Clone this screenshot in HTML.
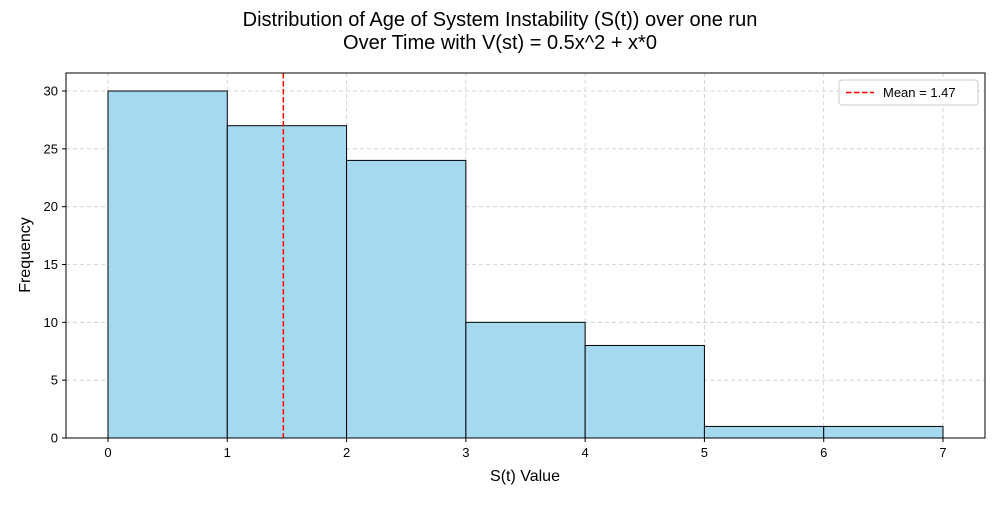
<!DOCTYPE html>
<html><head><meta charset="utf-8"><style>
body{margin:0;background:#fff;font-family:"Liberation Sans","DejaVu Sans",sans-serif}
</style></head><body>
<svg id="chart" width="1000" height="500" xmlns="http://www.w3.org/2000/svg" font-family="Liberation Sans, DejaVu Sans, sans-serif">
<text x="500" y="26" text-anchor="middle" font-size="20">Distribution of Age of System Instability (S(t)) over one run</text>
<text x="500" y="49" text-anchor="middle" font-size="20">Over Time with V(st) = 0.5x^2 + x*0</text>
<g id="grid"></g><g id="bars"></g><g id="axes"></g>
<text x="525" y="481" text-anchor="middle" font-size="16">S(t) Value</text>
<text transform="translate(30,255) rotate(-90)" text-anchor="middle" font-size="16">Frequency</text>
<g>
<rect x="839" y="80" width="139" height="25" rx="3" fill="#fff" stroke="#ccc"/>
<line x1="846" y1="92.5" x2="874" y2="92.5" stroke="red" stroke-width="1.5" stroke-dasharray="5.5,2.5"/>
<text x="883" y="97" font-size="13">Mean = 1.47</text>
</g>
</svg>
<script>
const binEdges=[0,1,2,3,4,5,6,7];
const counts=[30,27,24,10,8,1,1];
const meanValue=1.47;
const xTicks=[0,1,2,3,4,5,6,7];
const yTicks=[0,5,10,15,20,25,30];
const L=66,R=985,T=73,B=438;
const xs=v=>108+v*(943-108)/7;
const ys=v=>B-v*(B-91)/30;
const NS="http://www.w3.org/2000/svg";
function mk(tag,attrs,parent){const e=document.createElementNS(NS,tag);for(const k in attrs)e.setAttribute(k,attrs[k]);document.getElementById(parent).appendChild(e);return e;}
xTicks.forEach(t=>{
 const g=mk('line',{x1:xs(t),x2:xs(t),y1:T,y2:B,stroke:'#ccc','stroke-dasharray':'4,3','stroke-width':0.8},'grid');
 
 
 mk('line',{x1:xs(t),x2:xs(t),y1:B,y2:B+4,stroke:'#000'},'axes');
 const tx=mk('text',{x:xs(t),y:B+19,'text-anchor':'middle','font-size':13},'axes');tx.textContent=t;
 
 
});
yTicks.forEach(t=>{
 const g=mk('line',{x1:L,x2:R,y1:ys(t),y2:ys(t),stroke:'#ccc','stroke-dasharray':'4,3','stroke-width':0.8},'grid');
 
 
 mk('line',{x1:L-4,x2:L,y1:ys(t),y2:ys(t),stroke:'#000'},'axes');
 const tx=mk('text',{x:L-8,y:ys(t)+4.5,'text-anchor':'end','font-size':13},'axes');tx.textContent=t;
 
 
});
counts.forEach((c,i)=>{
 const x0=xs(binEdges[i]),x1=xs(binEdges[i+1]);
 const r=mk('rect',{x:x0,y:ys(c),width:x1-x0,height:B-ys(c),fill:'#a5d9ef',stroke:'#000','stroke-width':1},'bars');
 
 
});
const m=mk('line',{x1:xs(meanValue),x2:xs(meanValue),y1:T,y2:B,stroke:'red','stroke-width':1.5,'stroke-dasharray':'5.5,2.5'},'bars');


const fr=mk('rect',{x:L,y:T,width:R-L,height:B-T,fill:'none',stroke:'#000','stroke-width':1},'axes');


</script>
</body></html>
